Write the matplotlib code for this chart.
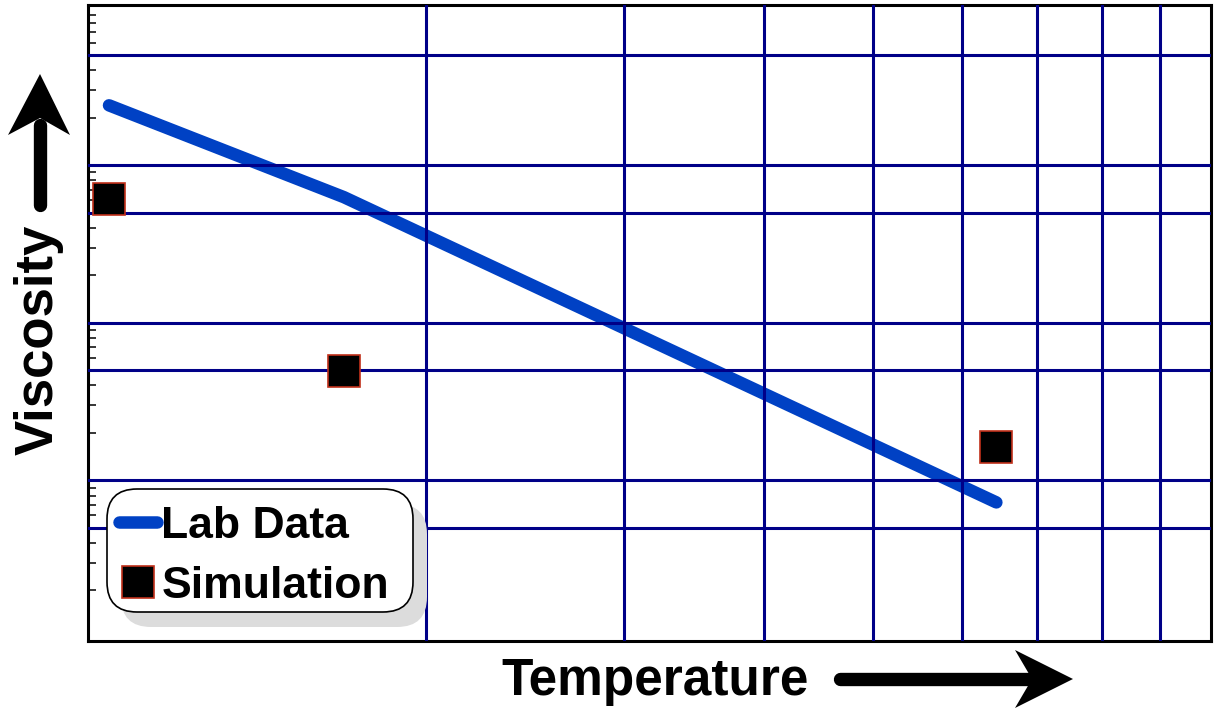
#!/usr/bin/env python3
import numpy as np
import matplotlib
matplotlib.use('Agg')
import matplotlib.pyplot as plt
import matplotlib.ticker as mticker
from matplotlib.lines import Line2D
from matplotlib.patches import Polygon, FancyBboxPatch
from matplotlib.transforms import IdentityTransform

plt.rcParams['font.family'] = ['Liberation Sans', 'DejaVu Sans']

# data (log-log, no labelled values)
lab_temp = [1.044, 1.69, 6.44]
lab_visc = [2400, 627, 7.24]
sim_temp = [1.044, 1.69, 6.44]
sim_visc = [608, 49.2, 16.2]

temp_grid = [2, 3, 4, 5, 6, 7, 8, 9]
visc_grid = [5, 10, 50, 100, 500, 1000, 5000]

W, H = 1214, 709
GRID = '#000088'
BLUE = '#0041c4'


def px(x, y):
    # image pixel (top-left origin) -> display coords
    return (x, H - y)


fig = plt.figure(figsize=(W / 100, H / 100), dpi=100)
ax = fig.add_axes([88 / W, 1 - 641 / H, (1211 - 88) / W, (641 - 5) / H])
ax.set_xscale('log')
ax.set_yscale('log')
ax.set_xlim(1, 10)
ax.set_ylim(0.955, 10400)

ax.set_xticks(temp_grid)
ax.xaxis.set_minor_locator(mticker.NullLocator())
ax.set_yticks(visc_grid)
ax.yaxis.set_minor_locator(mticker.LogLocator(base=10, subs=np.arange(2, 10)))
ax.xaxis.set_major_formatter(mticker.NullFormatter())
ax.yaxis.set_major_formatter(mticker.NullFormatter())
ax.yaxis.set_minor_formatter(mticker.NullFormatter())
ax.tick_params(which='major', length=0)
ax.tick_params(axis='y', which='minor', direction='in', length=5.8, width=1.1,
               left=True, right=False)
ax.tick_params(labelleft=False, labelbottom=False)

ax.set_axisbelow(False)
ax.grid(True, which='major', color=GRID, lw=2.2)
for s in ax.spines.values():
    s.set_linewidth(2.2)

ax.plot(lab_temp, lab_visc, color=BLUE, lw=9, solid_capstyle='round',
        solid_joinstyle='round', label='Lab Data', zorder=2)
ax.plot(sim_temp, sim_visc, ls='none', marker='s', ms=23.5, mfc='black',
        mec='#c0301a', mew=1.2, label='Simulation', zorder=3, clip_on=False)

# legend with rounded frame and offset shadow
x0, y0, x1, y1 = 107, 489, 413, 612
shadow = FancyBboxPatch(px(x0 + 14, y1 + 15), x1 - x0, y1 - y0,
                        boxstyle='round,pad=0,rounding_size=30',
                        transform=IdentityTransform(), fc='#dcdcdc', ec='none',
                        zorder=4, clip_on=False)
frame = FancyBboxPatch(px(x0, y1), x1 - x0, y1 - y0,
                       boxstyle='round,pad=0,rounding_size=30',
                       transform=IdentityTransform(), fc='white', ec='black',
                       lw=1.2, zorder=4.1, clip_on=False)
ax.add_patch(shadow)
ax.add_patch(frame)

leg = ax.legend(loc='upper left', bbox_to_anchor=((119 - 88) / 1123, (641 - 506) / 636),
                frameon=False, prop={'weight': 'bold', 'size': 32},
                handlelength=0.85, handletextpad=0.1, labelspacing=0.42,
                borderpad=0, borderaxespad=0)
leg.set_zorder(5)

# axis labels with arrows
fig.text(53 / W, 1 - 340 / H, 'Viscosity', rotation=90, rotation_mode='anchor',
         ha='center', va='baseline', fontsize=38, fontweight='bold')
fig.text(655 / W, 1 - 695 / H, 'Temperature', ha='center', va='baseline',
         fontsize=37, fontweight='bold')

up_shaft = Line2D([40, 40], [H - 205, H - 125], color='black', lw=9.6,
                  solid_capstyle='round', transform=IdentityTransform())
up_head = Polygon([px(40, 74), px(70, 135), px(40, 118), px(8, 135)], closed=True,
                  fc='black', ec='none', transform=IdentityTransform())
rt_shaft = Line2D([840, 1035], [H - 679, H - 679], color='black', lw=9.6,
                  solid_capstyle='round', transform=IdentityTransform())
rt_head = Polygon([px(1073, 679), px(1015, 708), px(1032, 679), px(1015, 650)],
                  closed=True, fc='black', ec='none', transform=IdentityTransform())
for a in (up_shaft, up_head, rt_shaft, rt_head):
    fig.add_artist(a)

fig.savefig('out.png', dpi=100)
